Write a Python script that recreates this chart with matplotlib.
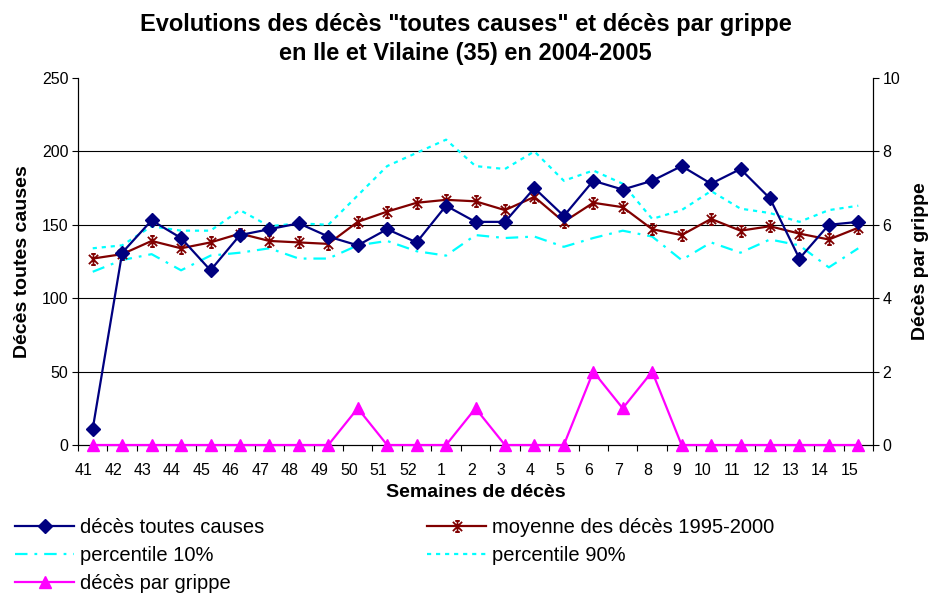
import numpy as np
import matplotlib
matplotlib.use('Agg')
import matplotlib.pyplot as plt
from matplotlib.path import Path
from matplotlib.ticker import FixedLocator

plt.rcParams['font.family'] = ['Liberation Sans', 'DejaVu Sans']
plt.rcParams['lines.scale_dashes'] = False

# Weeks (2004 wk 41 -> 2005 wk 15)
semaines = ['41', '42', '43', '44', '45', '46', '47', '48', '49', '50', '51', '52',
            '1', '2', '3', '4', '5', '6', '7', '8', '9', '10', '11', '12', '13', '14', '15']

deces_toutes_causes = [11, 131, 153, 141, 119, 143, 147, 151, 142, 136, 147, 138, 163, 152,
                       152, 175, 156, 180, 174, 180, 190, 178, 188, 168, 127, 150, 152]
moyenne_1995_2000 = [127, 130, 139, 134, 138, 144, 139, 138, 137, 152, 159, 165, 167, 166,
                     160, 169, 152, 165, 162, 147, 143, 154, 146, 149, 144, 140, 148]
percentile_10 = [118, 126, 130, 119, 129, 131, 134, 127, 127, 136, 139, 132, 129, 143,
                 141, 142, 135, 141, 146, 142, 126, 138, 131, 140, 136, 121, 134]
percentile_90 = [134, 136, 149, 146, 146, 160, 149, 151, 150, 170, 190, 199, 208, 190,
                 188, 200, 180, 187, 178, 154, 160, 173, 161, 158, 152, 160, 163]
deces_grippe = [0, 0, 0, 0, 0, 0, 0, 0, 0, 1, 0, 0, 0, 1,
                0, 0, 0, 2, 1, 2, 0, 0, 0, 0, 0, 0, 0]

left_ticks = [0, 50, 100, 150, 200, 250]
grid_values = [50, 100, 150, 200]
right_ticks = [0, 2, 4, 6, 8, 10]

navy = '#000080'
dark_red = '#800000'
cyan = '#00FFFF'
magenta = '#FF00FF'

# Excel-like "star" marker: X + vertical bar with caps
star = Path([(-1, -1), (1, 1), (-1, 1), (1, -1), (0, -1.2), (0, 1.2),
             (-0.5, 1.2), (0.5, 1.2), (-0.5, -1.2), (0.5, -1.2)],
            [Path.MOVETO, Path.LINETO] * 5)

x = np.arange(len(semaines))

fig = plt.figure(figsize=(9.31, 5.93), dpi=100)
ax = fig.add_axes([78 / 931, 1 - 445 / 593, (873 - 78) / 931, (445 - 78) / 593])
ax2 = ax.twinx()

for g in grid_values:
    ax.axhline(g, color='black', lw=0.8, zorder=0)

l_p10, = ax.plot(x, percentile_10, color=cyan, lw=1.6, dashes=(9, 5, 2, 5),
                 label='percentile 10%')
l_p90, = ax.plot(x, percentile_90, color=cyan, lw=1.6, dashes=(3, 3.5),
                 label='percentile 90%')
l_moy, = ax.plot(x, moyenne_1995_2000, color=dark_red, lw=1.6, marker=star,
                 markersize=8, markeredgewidth=1.3, markeredgecolor=dark_red,
                 markerfacecolor='none', label='moyenne des décès 1995-2000')
l_tc, = ax.plot(x, deces_toutes_causes, color=navy, lw=1.6, marker='D',
                markersize=7.5, markeredgecolor=navy, markerfacecolor=navy,
                label='décès toutes causes')
l_gr, = ax2.plot(x, deces_grippe, color=magenta, lw=1.6, marker='^',
                 markersize=9, markeredgecolor=magenta, markerfacecolor=magenta,
                 clip_on=False, label='décès par grippe', zorder=5)

ax.set_xlim(-0.5, len(semaines) - 0.5)
ax.set_ylim(0, 250)
ax2.set_ylim(0, 10)
ax.set_yticks(left_ticks)
ax2.set_yticks(right_ticks)

ax.set_xticks(x)
ax.set_xticklabels(semaines, ha='right')
ax.xaxis.set_minor_locator(FixedLocator(np.arange(-0.5, len(semaines), 1)))
ax.tick_params(axis='x', which='major', length=0, pad=13, labelsize=11.5)
ax.tick_params(axis='x', which='minor', length=4, width=0.8, direction='out')
ax.tick_params(axis='y', length=4, width=0.8, labelsize=11.5, pad=3)
ax2.tick_params(axis='y', length=4, width=0.8, labelsize=11.5, pad=3)

for a in (ax, ax2):
    a.spines['top'].set_visible(False)
    for s in ('left', 'right', 'bottom'):
        a.spines[s].set_linewidth(0.8)

ax.set_xlabel('Semaines de décès', fontsize=14, fontweight='bold', labelpad=4)
ax.set_ylabel('Décès toutes causes', fontsize=14, fontweight='bold', labelpad=8)
ax2.set_ylabel('Décès par grippe', fontsize=14, fontweight='bold', labelpad=8)

fig.text(0.5, 1 - 39 / 593,
         'Evolutions des décès "toutes causes" et décès par grippe\nen Ile et Vilaine (35) en 2004-2005',
         ha='center', va='center', fontsize=17, fontweight='bold', linespacing=1.3)

leg_kw = dict(frameon=False, fontsize=14.5, handlelength=2.95, handletextpad=0.3,
              labelspacing=0.45, borderpad=0, borderaxespad=0, loc='upper left')
fig.legend(handles=[l_tc, l_p10, l_gr], bbox_to_anchor=(15 / 931, 1 - 518 / 593), **leg_kw)
fig.legend(handles=[l_moy, l_p90], bbox_to_anchor=(427 / 931, 1 - 518 / 593), **leg_kw)

fig.savefig('out.png', dpi=100)
